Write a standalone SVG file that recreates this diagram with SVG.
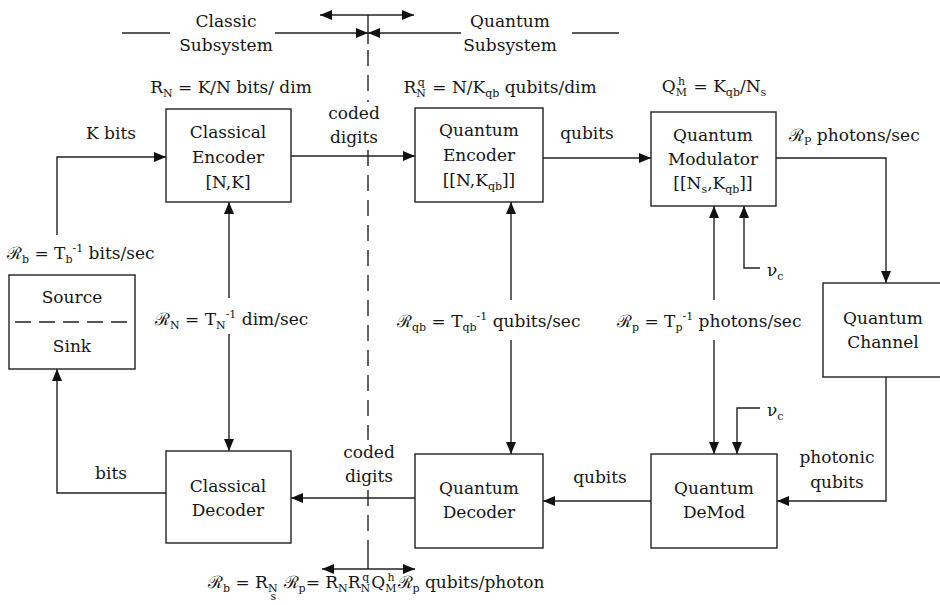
<svg xmlns="http://www.w3.org/2000/svg" width="940" height="605" viewBox="0 0 940 605">
<defs>
<marker id="ah" viewBox="0 0 12 10" refX="12" refY="5" markerWidth="12" markerHeight="10" markerUnits="userSpaceOnUse" orient="auto-start-reverse">
<path d="M0,0 L12,5 L0,10 Z" fill="#111"/>
</marker>
<style>
text{font-family:"DejaVu Serif","Liberation Serif",serif;font-size:17px;fill:#161616}
.c{text-anchor:middle}
.box{fill:#fff;stroke:#222;stroke-width:1.4}
.ln{fill:none;stroke:#222;stroke-width:1.4}
.dash{fill:none;stroke:#222;stroke-width:1.4;stroke-dasharray:16 9}
.arr{marker-end:url(#ah)}
.s{font-size:11px}
</style>
</defs>
<rect width="940" height="605" fill="#fff"/>

<g id="connectors">
  <line class="ln" x1="368" y1="15" x2="368" y2="44"/>
  <line class="dash" x1="368" y1="50" x2="368" y2="102"/>
  <line class="dash" x1="368" y1="150" x2="368" y2="440"/>
  <line class="dash" x1="368" y1="490" x2="368" y2="548"/>
  <line class="ln" x1="368" y1="548" x2="368" y2="569"/>
  <line class="ln" x1="122" y1="33" x2="170" y2="33"/>
  <line class="ln arr" x1="275" y1="33" x2="368" y2="33"/>
  <line class="ln arr" x1="461" y1="33" x2="368" y2="33"/>
  <line class="ln" x1="572" y1="33" x2="619" y2="33"/>
  <line class="ln" x1="320" y1="15" x2="414" y2="15" style="marker-start:url(#ah);marker-end:url(#ah)"/>
  <line class="ln" x1="322" y1="569" x2="415" y2="569" style="marker-start:url(#ah);marker-end:url(#ah)"/>
  <polyline class="ln arr" points="57,235 57,157 166,157"/>
  <line class="ln arr" x1="291" y1="156" x2="415" y2="156"/>
  <line class="ln arr" x1="543" y1="158" x2="651" y2="158"/>
  <polyline class="ln arr" points="776,158 886,158 886,283"/>
  <polyline class="ln arr" points="886,377 886,501 777,501"/>
  <line class="ln arr" x1="651" y1="501" x2="543" y2="501"/>
  <line class="ln arr" x1="415" y1="498" x2="291" y2="498"/>
  <polyline class="ln arr" points="166,493 57,493 57,369"/>
  <line class="ln arr" x1="229" y1="298" x2="229" y2="202"/>
  <line class="ln arr" x1="229" y1="334" x2="229" y2="451"/>
  <line class="ln arr" x1="511" y1="300" x2="511" y2="202"/>
  <line class="ln arr" x1="511" y1="340" x2="511" y2="454"/>
  <line class="ln arr" x1="714" y1="300" x2="714" y2="206"/>
  <line class="ln arr" x1="714" y1="340" x2="714" y2="454"/>
  <polyline class="ln arr" points="760,268 744,268 744,206"/>
  <polyline class="ln arr" points="760,408 737,408 737,454"/>
</g>

<g id="source-sink">
  <rect class="box" x="9" y="275" width="126" height="94"/>
  <line class="ln" x1="15" y1="322" x2="132" y2="322" stroke-dasharray="16 8"/>
  <text class="c" x="72" y="303">Source</text>
  <text class="c" x="72" y="352">Sink</text>
</g>

<g id="classical-encoder">
  <rect class="box" x="166" y="109" width="125" height="93"/>
  <text class="c" x="228" y="138">Classical</text>
  <text class="c" x="228" y="163">Encoder</text>
  <text class="c" x="228" y="188">[N,K]</text>
</g>

<g id="quantum-encoder">
  <rect class="box" x="415" y="108" width="128" height="94"/>
  <text class="c" x="479" y="136">Quantum</text>
  <text class="c" x="479" y="161">Encoder</text>
  <text class="c" x="479" y="186">[[N,K<tspan class="s" dy="4">qb</tspan><tspan dy="-4">]]</tspan></text>
</g>

<g id="quantum-modulator">
  <rect class="box" x="651" y="112" width="125" height="94"/>
  <text class="c" x="713" y="141">Quantum</text>
  <text class="c" x="713" y="165">Modulator</text>
  <text class="c" x="713" y="189">[[N<tspan class="s" dy="4">s</tspan><tspan dy="-4">,K</tspan><tspan class="s" dy="4">qb</tspan><tspan dy="-4">]]</tspan></text>
</g>

<g id="quantum-channel">
  <rect class="box" x="823" y="283" width="125" height="94"/>
  <text class="c" x="883" y="324">Quantum</text>
  <text class="c" x="883" y="348">Channel</text>
</g>

<g id="classical-decoder">
  <rect class="box" x="166" y="451" width="125" height="92"/>
  <text class="c" x="228" y="492">Classical</text>
  <text class="c" x="228" y="516">Decoder</text>
</g>

<g id="quantum-decoder">
  <rect class="box" x="415" y="454" width="128" height="94"/>
  <text class="c" x="479" y="494">Quantum</text>
  <text class="c" x="479" y="518">Decoder</text>
</g>

<g id="quantum-demod">
  <rect class="box" x="651" y="454" width="126" height="94"/>
  <text class="c" x="714" y="494">Quantum</text>
  <text class="c" x="714" y="518">DeMod</text>
</g>

<g id="labels">
  <text class="c" x="226" y="27">Classic</text>
  <text class="c" x="226" y="51">Subsystem</text>
  <text class="c" x="510" y="27">Quantum</text>
  <text class="c" x="510" y="51">Subsystem</text>

  <text class="c" x="231" y="93">R<tspan class="s" dy="4">N</tspan><tspan dy="-4"> = K/N bits/ dim</tspan></text>
  <text class="c" x="500" y="93">R<tspan class="s" dy="4">N</tspan><tspan class="s" dx="-8" dy="-11">q</tspan><tspan dx="2" dy="7"> = N/K</tspan><tspan class="s" dy="4">qb</tspan><tspan dy="-4"> qubits/dim</tspan></text>
  <text class="c" x="714" y="92">Q<tspan class="s" dy="4">M</tspan><tspan class="s" dx="-9" dy="-11">h</tspan><tspan dx="3" dy="7"> = K</tspan><tspan class="s" dy="4">qb</tspan><tspan dy="-4">/N</tspan><tspan class="s" dy="4">s</tspan></text>

  <text class="c" x="111" y="139">K bits</text>
  <text class="c" x="354" y="119">coded</text>
  <text class="c" x="354" y="143">digits</text>
  <text class="c" x="587" y="139">qubits</text>
  <text x="789" y="141">ℛ<tspan class="s" dy="4">P</tspan><tspan dy="-4"> photons/sec</tspan></text>

  <text x="7" y="259">ℛ<tspan class="s" dy="4">b</tspan><tspan dy="-4"> = T</tspan><tspan class="s" dy="4">b</tspan><tspan class="s" dy="-11">-1</tspan><tspan dy="7"> bits/sec</tspan></text>
  <text x="155" y="325">ℛ<tspan class="s" dy="4">N</tspan><tspan dy="-4"> = T</tspan><tspan class="s" dy="4">N</tspan><tspan class="s" dy="-11">-1</tspan><tspan dy="7"> dim/sec</tspan></text>
  <text x="397" y="327">ℛ<tspan class="s" dy="4">qb</tspan><tspan dy="-4"> = T</tspan><tspan class="s" dy="4">qb</tspan><tspan class="s" dy="-11">-1</tspan><tspan dy="7"> qubits/sec</tspan></text>
  <text x="617" y="327">ℛ<tspan class="s" dy="4">p</tspan><tspan dy="-4"> = T</tspan><tspan class="s" dy="4">p</tspan><tspan class="s" dy="-11">-1</tspan><tspan dy="7"> photons/sec</tspan></text>

  <text x="767" y="276">ν<tspan class="s" dy="4">c</tspan></text>
  <text x="767" y="416">ν<tspan class="s" dy="4">c</tspan></text>

  <text class="c" x="111" y="479">bits</text>
  <text class="c" x="369" y="458">coded</text>
  <text class="c" x="369" y="482">digits</text>
  <text class="c" x="600" y="483">qubits</text>
  <text class="c" x="837" y="463">photonic</text>
  <text class="c" x="837" y="488">qubits</text>

  <text x="208" y="588">ℛ<tspan class="s" dy="4">b</tspan><tspan dy="-4"> = R</tspan><tspan class="s" dy="4">N</tspan><tspan class="s" dx="-7" dy="8">s</tspan><tspan dx="2" dy="-12"> ℛ</tspan><tspan class="s" dy="4">p</tspan><tspan dy="-4">= R</tspan><tspan class="s" dy="4">N</tspan><tspan dy="-4">R</tspan><tspan class="s" dy="4">N</tspan><tspan class="s" dx="-8" dy="-11">q</tspan><tspan dx="2" dy="7">Q</tspan><tspan class="s" dy="4">M</tspan><tspan class="s" dx="-9" dy="-11">h</tspan><tspan dx="3" dy="7">ℛ</tspan><tspan class="s" dy="4">p</tspan><tspan dy="-4"> qubits/photon</tspan></text>
</g>
</svg>
